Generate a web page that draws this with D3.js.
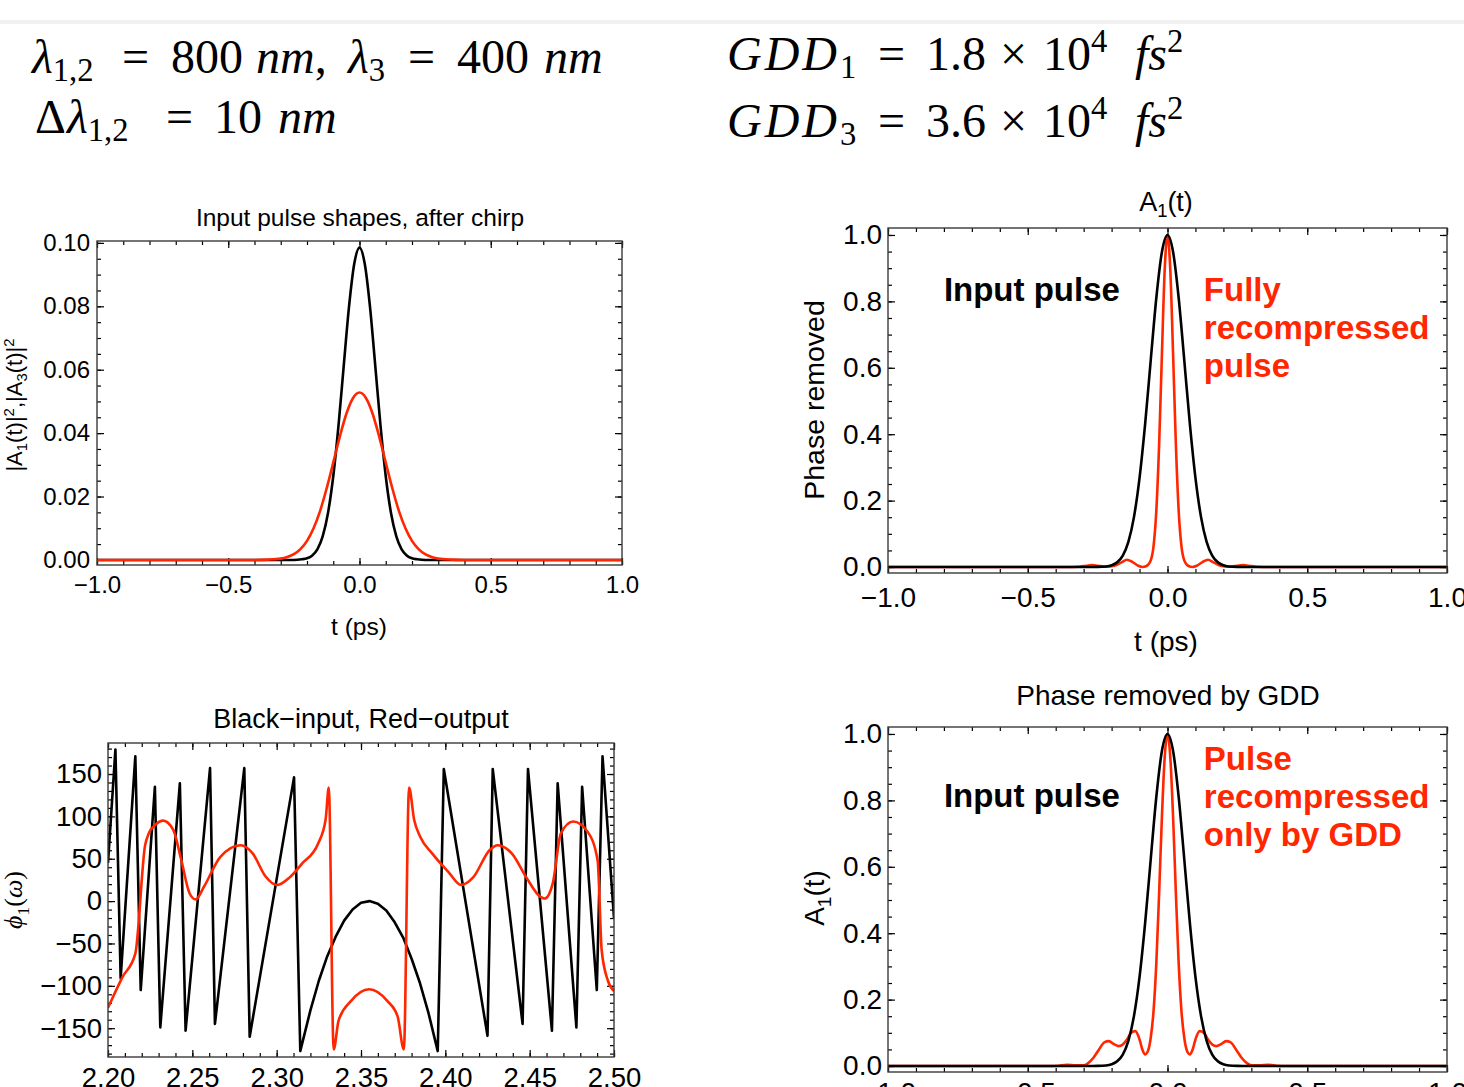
<!DOCTYPE html>
<html>
<head>
<meta charset="utf-8">
<script src="https://cdn.jsdelivr.net/npm/d3@7"></script>
<style>
	body { margin: 0; background: #fff; }
	svg { display: block; font-family: "Liberation Sans", Arial, sans-serif; }
	.frame { fill: none; stroke: #3a3a3a; stroke-width: 1.4; }
	.axis .tick line { stroke: #000; stroke-width: 1.2; }
	.axis path.domain { display: none; }
	.curve { fill: none; stroke-width: 2.6; stroke-linejoin: round; }
	.black { stroke: #000; }
	.red { stroke: #ff2600; }
	.math { font-family: "Liberation Serif", "Times New Roman", serif; }
</style>
</head>
<body>
<script>
/*************************************************************
 * Data
 */

// top left: pulse intensity after chirp
var chirpBlackT = [-1, -0.25, -0.22, -0.2, -0.18, -0.16, -0.14, -0.12, -0.1, -0.08, -0.06, -0.04, -0.02, 0, 0.02, 0.04, 0.06, 0.08, 0.1, 0.12, 0.14, 0.16, 0.18, 0.2, 0.22, 0.25, 1];
var chirpBlackA = [0, 0, 0.0002, 0.0005, 0.0014, 0.0034, 0.0075, 0.0148, 0.0264, 0.0424, 0.0613, 0.0798, 0.0934, 0.0985, 0.0934, 0.0798, 0.0613, 0.0424, 0.0264, 0.0148, 0.0075, 0.0034, 0.0014, 0.0005, 0.0002, 0, 0];
var chirpRedT = [-1, -0.4, -0.35, -0.3, -0.275, -0.25, -0.225, -0.2, -0.175, -0.15, -0.125, -0.1, -0.075, -0.05, -0.025, 0, 0.025, 0.05, 0.075, 0.1, 0.125, 0.15, 0.175, 0.2, 0.225, 0.25, 0.275, 0.3, 0.35, 0.4, 1];
var chirpRedA = [0, 0, 0.0001, 0.0004, 0.0009, 0.0018, 0.0034, 0.0060, 0.0100, 0.0155, 0.0226, 0.0307, 0.0389, 0.0461, 0.0510, 0.0528, 0.0510, 0.0461, 0.0389, 0.0307, 0.0226, 0.0155, 0.0100, 0.0060, 0.0034, 0.0018, 0.0009, 0.0004, 0.0001, 0, 0];

// right panels: input pulse (black), normalised
var inputT = [-1, -0.3, -0.25, -0.22, -0.2, -0.18, -0.16, -0.14, -0.12, -0.1, -0.08, -0.06, -0.04, -0.02, 0, 0.02, 0.04, 0.06, 0.08, 0.1, 0.12, 0.14, 0.16, 0.18, 0.2, 0.22, 0.25, 0.3, 1];
var inputA = [0, 0, 0.0003, 0.0017, 0.0052, 0.0141, 0.0345, 0.0758, 0.1503, 0.2683, 0.4308, 0.6227, 0.8102, 0.9487, 1, 0.9487, 0.8102, 0.6227, 0.4308, 0.2683, 0.1503, 0.0758, 0.0345, 0.0141, 0.0052, 0.0017, 0.0003, 0, 0];

// top right: fully recompressed pulse
var fullT = [-1, -0.36, -0.32, -0.29, -0.27, -0.25, -0.22, -0.19, -0.165, -0.145, -0.125, -0.105, -0.09, -0.075, -0.06, -0.05, -0.04, -0.03, -0.02, -0.01, 0, 0.01, 0.02, 0.03, 0.04, 0.05, 0.06, 0.075, 0.09, 0.105, 0.125, 0.145, 0.165, 0.19, 0.22, 0.25, 0.27, 0.29, 0.32, 0.36, 1];
var fullA = [0, 0, 0.001, 0.004, 0.006, 0.004, 0.001, 0.004, 0.014, 0.022, 0.015, 0.004, 0, 0.003, 0.02, 0.062, 0.169, 0.368, 0.641, 0.895, 1, 0.895, 0.641, 0.368, 0.169, 0.062, 0.02, 0.003, 0, 0.004, 0.015, 0.022, 0.014, 0.004, 0.001, 0.004, 0.006, 0.004, 0.001, 0, 0];

// bottom right: pulse recompressed only by GDD
var gddT = [-1, -0.42, -0.39, -0.36, -0.33, -0.3, -0.285, -0.265, -0.245, -0.225, -0.21, -0.19, -0.175, -0.16, -0.145, -0.13, -0.115, -0.1, -0.09, -0.08, -0.07, -0.06, -0.05, -0.04, -0.03, -0.02, -0.01, 0, 0.01, 0.02, 0.03, 0.04, 0.05, 0.06, 0.07, 0.08, 0.09, 0.1, 0.115, 0.13, 0.145, 0.16, 0.175, 0.19, 0.21, 0.225, 0.245, 0.265, 0.285, 0.3, 0.33, 0.36, 0.39, 0.42, 1];
var gddA = [0, 0, 0.001, 0.004, 0.002, 0.002, 0.008, 0.025, 0.05, 0.072, 0.075, 0.065, 0.06, 0.065, 0.08, 0.1, 0.105, 0.08, 0.05, 0.035, 0.045, 0.085, 0.165, 0.31, 0.52, 0.75, 0.93, 1, 0.93, 0.75, 0.52, 0.31, 0.165, 0.085, 0.045, 0.035, 0.05, 0.08, 0.105, 0.1, 0.08, 0.065, 0.06, 0.065, 0.075, 0.072, 0.05, 0.025, 0.008, 0.002, 0.002, 0.004, 0.001, 0, 0];

// bottom left: spectral phase, input (black) and output (red)
var phaseBlackW = [2.2, 2.2044, 2.2075, 2.2162, 2.2194, 2.2278, 2.231, 2.2426, 2.246, 2.2605, 2.2634, 2.2808, 2.284, 2.3103, 2.314, 2.32, 2.325, 2.33, 2.335, 2.34, 2.345, 2.35, 2.355, 2.36, 2.365, 2.37, 2.375, 2.38, 2.385, 2.39, 2.3955, 2.3991, 2.425, 2.4281, 2.4458, 2.449, 2.4632, 2.4666, 2.4777, 2.4811, 2.4898, 2.4932, 2.5];
var phaseBlack = [45, 179, -91, 171, -105, 135, -149, 139, -153, 157, -145, 157, -160, 146, -177, -129, -94, -65, -42, -23, -10, -2, 0, -3, -11, -25, -43, -68, -97, -132, -177, 156, -159, 156, -145, 156, -153, 139, -149, 135, -105, 171, -20];
var phaseRedW = [2.2, 2.2085, 2.2162, 2.222, 2.2242, 2.228, 2.2327, 2.2387, 2.2435, 2.2484, 2.252, 2.2569, 2.2665, 2.2786, 2.2859, 2.2931, 2.3004, 2.3077, 2.3149, 2.3246, 2.329, 2.3309, 2.3338, 2.3367, 2.344, 2.3548, 2.3657, 2.3717, 2.3754, 2.3785, 2.3815, 2.3851, 2.3923, 2.402, 2.4093, 2.4165, 2.4262, 2.431, 2.4395, 2.448, 2.4564, 2.4589, 2.4637, 2.4685, 2.4758, 2.4843, 2.4903, 2.4927, 2.4964, 2.5];
var phaseRed = [-126, -90, -62, 66, 80, 90, 95, 84, 48, 9, 2, 17, 52, 66, 56, 30, 19, 28, 44, 68, 96, 134, -175, -141, -118, -104, -118, -136, -175, 134, 96, 76, 56, 34, 19, 28, 60, 66, 56, 28, 5, 3, 21, 80, 94, 82, 48, -58, -94, -106];

// header formulas: [text, kind, start x]; sub/superscripts follow their base
var headerLines = [
	[['λ', 'it', 32], ['1,2', 'sub'], ['=', '', 122], ['800', '', 171], ['nm', 'it', 256], [',', ''], ['λ', 'it', 348], ['3', 'sub'], ['=', '', 408], ['400', '', 457], ['nm', 'it', 544]],
	[['Δ', '', 35], ['λ', 'it', 67], ['1,2', 'sub'], ['=', '', 166], ['10', '', 214], ['nm', 'it', 278]],
	[['GDD', 'it', 727], ['1', 'sub'], ['=', '', 878], ['1.8', '', 926], ['×', '', 1000], ['10', '', 1043], ['4', 'sup'], ['fs', 'it', 1135], ['2', 'sup']],
	[['GDD', 'it', 727], ['3', 'sub'], ['=', '', 878], ['3.6', '', 926], ['×', '', 1000], ['10', '', 1043], ['4', 'sup'], ['fs', 'it', 1135], ['2', 'sup']]
];
var headerBaselines = [73, 133, 70, 137];
var fullLabels = ['Fully', 'recompressed', 'pulse'];
var gddLabels = ['Pulse', 'recompressed', 'only by GDD'];

/*************************************************************
 * Helpers
 */
var W = 1464, H = 1087;
var svg = d3.select('body').append('svg').attr('width', W).attr('height', H);

svg.append('rect').attr('x', 0).attr('y', 20).attr('width', W).attr('height', 4).attr('fill', '#f1f1f1');

function richText(parent, size, parts, cls, subDrop) {
	var text = parent.append('text').attr('font-size', size);
	if (cls) text.attr('class', cls);
	var shift = 0;
	subDrop = subDrop || 0.24;

	parts.forEach(function (p) {
		var kind = p[1], target = 0, fs = size;
		if (kind === 'sub') { target = size * subDrop; fs = size * 0.68; }
		if (kind === 'sup') { target = -size * 0.38; fs = size * 0.68; }
		var span = text.append('tspan')
			.attr('dy', target - shift)
			.attr('font-size', fs)
			.attr('font-style', kind === 'it' ? 'italic' : null)
			.text(p[0]);
		if (p[2] != null) span.attr('x', p[2]);
		if (p[0] === 'GDD') span.attr('letter-spacing', 3);
		shift = target;
	});
	return text;
}

function rotatedLabel(cx, cy, size, parts, cls) {
	var g = svg.append('g').attr('transform', 'translate(' + (cx + size * 0.36) + ',' + cy + ') rotate(-90)');
	richText(g, size, parts, cls).attr('text-anchor', 'middle');
}

function curve(plot, x, y, xs, ys, cls, kind) {
	var line = d3.line()
		.x(function (d) { return x(d[0]); })
		.y(function (d) { return y(d[1]); })
		.curve(kind || d3.curveMonotoneX);

	plot.append('path')
		.datum(d3.zip(xs, ys))
		.attr('class', 'curve ' + cls)
		.attr('d', line);
}

function drawPanel(cfg) {
	var x = d3.scaleLinear().domain(cfg.xDomain).range([cfg.left, cfg.right]);
	var y = d3.scaleLinear().domain(cfg.yDomain).range([cfg.bottom, cfg.top]);
	var g = svg.append('g').attr('class', 'panel');
	var none = function () { return ''; };

	function axis(maker, transform, values, size, fmt, pad) {
		var a = g.append('g').attr('class', 'axis').attr('transform', transform)
			.call(maker.tickValues(values).tickSize(-size).tickSizeOuter(0).tickPadding(pad || 0).tickFormat(fmt || none));
		a.attr('font-family', null).attr('font-size', cfg.fontSize);
		a.selectAll('text').attr('fill', '#000');
		return a;
	}

	var bottom = 'translate(0,' + cfg.bottom + ')', top = 'translate(0,' + cfg.top + ')',
		left = 'translate(' + cfg.left + ',0)', right = 'translate(' + cfg.right + ',0)';

	// minor ticks on all four sides, then the major ones
	axis(d3.axisBottom(x), bottom, cfg.xMinor, 4);
	axis(d3.axisTop(x), top, cfg.xMinor, 4);
	axis(d3.axisLeft(y), left, cfg.yMinor, 4);
	axis(d3.axisRight(y), right, cfg.yMinor, 4);
	axis(d3.axisBottom(x), bottom, cfg.xMajor, 7, d3.format(cfg.xFormat), cfg.xPad);
	axis(d3.axisTop(x), top, cfg.xMajor, 7);
	axis(d3.axisLeft(y), left, cfg.yMajor, 7, d3.format(cfg.yFormat), cfg.yPad);
	axis(d3.axisRight(y), right, cfg.yMajor, 7);

	g.append('clipPath').attr('id', 'clip-' + cfg.id)
		.append('rect')
		.attr('x', cfg.left).attr('y', cfg.top)
		.attr('width', cfg.right - cfg.left).attr('height', cfg.bottom - cfg.top);

	var plot = g.append('g').attr('clip-path', 'url(#clip-' + cfg.id + ')');

	g.append('rect').attr('class', 'frame')
		.attr('x', cfg.left).attr('y', cfg.top)
		.attr('width', cfg.right - cfg.left).attr('height', cfg.bottom - cfg.top);

	return { x: x, y: y, g: g, plot: plot };
}

function title(cx, baseline, size, parts) {
	var g = svg.append('g').attr('transform', 'translate(' + cx + ',' + baseline + ')');
	richText(g, size, parts).attr('text-anchor', 'middle');
}

/*************************************************************
 * Header formulas
 */
headerLines.forEach(function (parts, i) {
	var g = svg.append('g').attr('transform', 'translate(0,' + headerBaselines[i] + ')');
	richText(g, 48, parts, 'math', 0.16);
});

/*************************************************************
 * Top left
 */
var p1 = drawPanel({
	id: 'p1', left: 97, right: 622, top: 241, bottom: 565,
	xDomain: [-1, 1], yDomain: [-0.0016, 0.1006],
	xMajor: [-1, -0.5, 0, 0.5, 1], xMinor: d3.range(-1, 1.001, 0.1),
	yMajor: d3.range(0, 0.1001, 0.02), yMinor: d3.range(0, 0.1001, 0.005),
	xFormat: '.1f', yFormat: '.2f', fontSize: 24, xPad: 11, yPad: 7
});
curve(p1.plot, p1.x, p1.y, chirpBlackT, chirpBlackA, 'black');
curve(p1.plot, p1.x, p1.y, chirpRedT, chirpRedA, 'red');

title(360, 226, 24.5, [['Input pulse shapes, after chirp', '']]);
title(359, 635, 24.5, [['t (ps)', '']]);
rotatedLabel(14, 405, 22, [['|A', ''], ['1', 'sub'], ['(t)|', ''], ['2', 'sup'], [',|A', ''], ['3', 'sub'], ['(t)|', ''], ['2', 'sup']]);

/*************************************************************
 * Top right
 */
var p2 = drawPanel({
	id: 'p2', left: 888, right: 1447, top: 228, bottom: 573,
	xDomain: [-1, 1], yDomain: [-0.018, 1.021],
	xMajor: [-1, -0.5, 0, 0.5, 1], xMinor: d3.range(-1, 1.001, 0.1),
	yMajor: d3.range(0, 1.001, 0.2), yMinor: d3.range(0, 1.001, 0.05),
	xFormat: '.1f', yFormat: '.1f', fontSize: 28, xPad: 14, yPad: 6
});
curve(p2.plot, p2.x, p2.y, fullT, fullA, 'red');
curve(p2.plot, p2.x, p2.y, inputT, inputA, 'black');

p2.g.append('text').attr('x', p2.x(-0.8)).attr('y', p2.y(0.801))
	.attr('font-size', 33).attr('font-weight', 'bold').text('Input pulse');
fullLabels.forEach(function (s, i) {
	p2.g.append('text').attr('x', p2.x(0.13)).attr('y', p2.y(0.801) + i * 38)
		.attr('font-size', 33).attr('font-weight', 'bold').attr('fill', '#ff2600').text(s);
});

title(1166, 211, 27, [['A', ''], ['1', 'sub'], ['(t)', '']]);
title(1166, 651, 28, [['t (ps)', '']]);
rotatedLabel(814, 400, 28.5, [['Phase removed', '']]);

/*************************************************************
 * Bottom left
 */
var p3 = drawPanel({
	id: 'p3', left: 108, right: 614, top: 743, bottom: 1057,
	xDomain: [2.2, 2.5], yDomain: [-184, 186.6],
	xMajor: d3.range(2.2, 2.5001, 0.05), xMinor: d3.range(2.2, 2.5001, 0.01),
	yMajor: d3.range(-150, 151, 50), yMinor: d3.range(-180, 181, 10),
	xFormat: '.2f', yFormat: 'd', fontSize: 27.5, xPad: 10, yPad: 6
});
curve(p3.plot, p3.x, p3.y, phaseBlackW, phaseBlack, 'black', d3.curveLinear);
curve(p3.plot, p3.x, p3.y, phaseRedW, phaseRed, 'red');

title(361, 728, 27, [['Black−input, Red−output', '']]);
rotatedLabel(13, 900, 26, [['ϕ', 'it'], ['1', 'sub'], ['(', ''], ['ω', 'it'], [')', '']], 'math');

/*************************************************************
 * Bottom right
 */
var p4 = drawPanel({
	id: 'p4', left: 888, right: 1447, top: 727, bottom: 1072,
	xDomain: [-1, 1], yDomain: [-0.018, 1.021],
	xMajor: [-1, -0.5, 0, 0.5, 1], xMinor: d3.range(-1, 1.001, 0.1),
	yMajor: d3.range(0, 1.001, 0.2), yMinor: d3.range(0, 1.001, 0.05),
	xFormat: '.1f', yFormat: '.1f', fontSize: 28, xPad: 10, yPad: 6
});
curve(p4.plot, p4.x, p4.y, gddT, gddA, 'red');
curve(p4.plot, p4.x, p4.y, inputT, inputA, 'black');

p4.g.append('text').attr('x', p4.x(-0.8)).attr('y', p4.y(0.78))
	.attr('font-size', 33).attr('font-weight', 'bold').text('Input pulse');
gddLabels.forEach(function (s, i) {
	p4.g.append('text').attr('x', p4.x(0.13)).attr('y', p4.y(0.892) + i * 38)
		.attr('font-size', 33).attr('font-weight', 'bold').attr('fill', '#ff2600').text(s);
});

title(1168, 705, 28, [['Phase removed by GDD', '']]);
rotatedLabel(814, 898, 28, [['A', ''], ['1', 'sub'], ['(t)', '']]);
</script>
</body>
</html>
